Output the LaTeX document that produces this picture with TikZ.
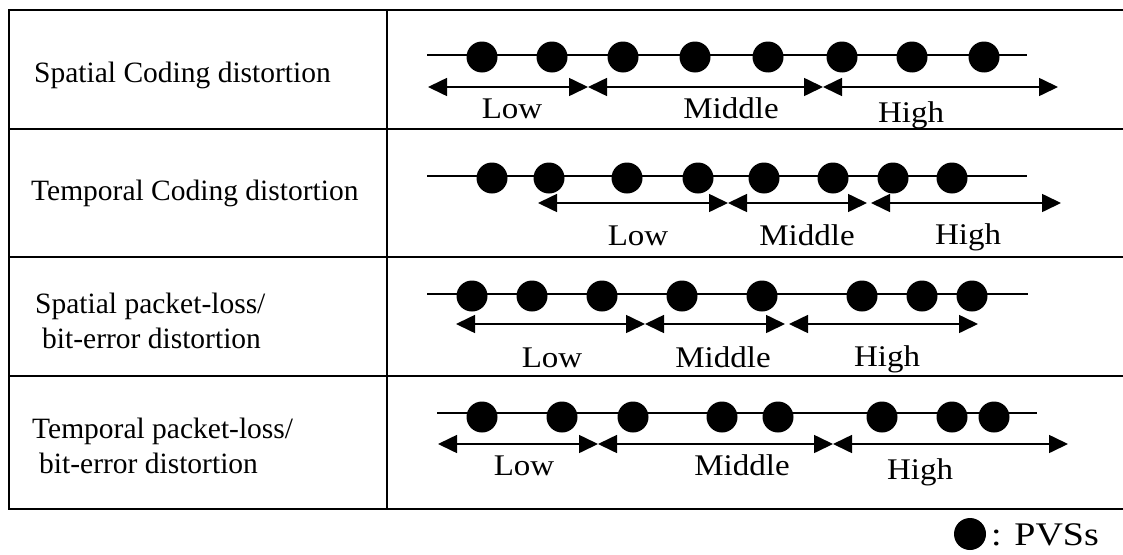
\documentclass[tikz,border=0pt]{standalone}
\usepackage{graphicx}
\usepackage{fontspec}
\setmainfont{Liberation Serif}
\usetikzlibrary{arrows.meta}

\newcommand{\widetext}[2]{\scalebox{#1}[1]{#2}}

\tikzset{
  tableline/.style={line width=2pt},
  pvsline/.style={line width=1.6pt},
  pvs/.style={circle, fill=black, inner sep=0pt, minimum size=31pt},
  bandarrow/.style={line width=1.6pt,
    {Triangle[length=19pt,width=18pt]}-{Triangle[length=19pt,width=18pt]}},
  lbl/.style={font=\fontsize{30}{34}\selectfont, inner sep=0pt, anchor=base},
  rowname/.style={font=\fontsize{29.5}{34}\selectfont, inner sep=0pt, anchor=base west},
}

\begin{document}
\begin{tikzpicture}[x=1pt,y=-1pt]
    \useasboundingbox (0,0) rectangle (1123,554);

    % Table frame
    \draw[tableline] (1123,10) -- (8.6,10) -- (8.6,509) -- (1123,509);
    \draw[tableline] (387,10) -- (387,509);
    \foreach \y in {129,257,376}
        \draw[tableline] (8.6,\y) -- (1123,\y);

    % Row names
    \node[rowname] (name1) at (34,82) {Spatial Coding distortion};
    \node[rowname] (name2) at (31,200) {Temporal Coding distortion};
    \node[rowname] (name3a) at (35,313) {Spatial packet-loss/};
    \node[rowname] (name3b) at (42,348) {bit-error distortion};
    \node[rowname] (name4a) at (32,438) {Temporal packet-loss/};
    \node[rowname] (name4b) at (39,473) {bit-error distortion};

    % Row 1
    \coordinate (s1) at (427,55);
    \coordinate (e1) at (1027,55);
    \draw[pvsline] (s1) -- (e1);
    \foreach \x [count=\i] in {482,552,623,695,768,842,912,984}
        \node[pvs] (p1\i) at (\x,57) {};
    \coordinate (a1) at (428,87);
    \coordinate (b1) at (588,87);
    \coordinate (c1) at (823,87);
    \coordinate (d1) at (1058,87);
    \draw[bandarrow] (a1) -- (b1);
    \draw[bandarrow] (b1) -- (c1);
    \draw[bandarrow] (c1) -- (d1);
    \node[lbl] (low1) at (512,118) {\widetext{1.1}{Low}};
    \node[lbl] (mid1) at (731,118) {\widetext{1.1}{Middle}};
    \node[lbl] (high1) at (911,122) {\widetext{1.1}{High}};

    % Row 2
    \coordinate (s2) at (427,176);
    \coordinate (e2) at (1027,176);
    \draw[pvsline] (s2) -- (e2);
    \foreach \x [count=\i] in {492,549,627,698,764,833,893,952}
        \node[pvs] (p2\i) at (\x,178) {};
    \coordinate (a2) at (538,203);
    \coordinate (b2) at (728,203);
    \coordinate (c2) at (867,203);
    \coordinate (c2h) at (871,203);
    \coordinate (d2) at (1061,203);
    \draw[bandarrow] (a2) -- (b2);
    \draw[bandarrow] (b2) -- (c2);
    \draw[bandarrow] (c2h) -- (d2);
    \node[lbl] (low2) at (638,245) {\widetext{1.1}{Low}};
    \node[lbl] (mid2) at (807,245) {\widetext{1.1}{Middle}};
    \node[lbl] (high2) at (968,244) {\widetext{1.1}{High}};

    % Row 3
    \coordinate (s3) at (427,294);
    \coordinate (e3) at (1028,294);
    \draw[pvsline] (s3) -- (e3);
    \foreach \x [count=\i] in {472,532,602,682,762,862,922,972}
        \node[pvs] (p3\i) at (\x,296) {};
    \coordinate (a3) at (456,324);
    \coordinate (b3) at (645,324);
    \coordinate (c3) at (785,324);
    \coordinate (c3h) at (789,324);
    \coordinate (d3) at (978,324);
    \draw[bandarrow] (a3) -- (b3);
    \draw[bandarrow] (b3) -- (c3);
    \draw[bandarrow] (c3h) -- (d3);
    \node[lbl] (low3) at (552,367) {\widetext{1.1}{Low}};
    \node[lbl] (mid3) at (723,367) {\widetext{1.1}{Middle}};
    \node[lbl] (high3) at (887,366) {\widetext{1.1}{High}};

    % Row 4
    \coordinate (s4) at (437,413);
    \coordinate (e4) at (1037,413);
    \draw[pvsline] (s4) -- (e4);
    \foreach \x [count=\i] in {482,562,633,722,778,882,952,994}
        \node[pvs] (p4\i) at (\x,417) {};
    \coordinate (a4) at (438,444);
    \coordinate (b4) at (598,444);
    \coordinate (c4) at (833,444);
    \coordinate (d4) at (1068,444);
    \draw[bandarrow] (a4) -- (b4);
    \draw[bandarrow] (b4) -- (c4);
    \draw[bandarrow] (c4) -- (d4);
    \node[lbl] (low4) at (524,475) {\widetext{1.1}{Low}};
    \node[lbl] (mid4) at (742,475) {\widetext{1.1}{Middle}};
    \node[lbl] (high4) at (920,479) {\widetext{1.1}{High}};

    % Legend
    \node[pvs, minimum size=32pt] (legdot) at (970,534) {};
    \node[rowname, font=\fontsize{33}{38}\selectfont] (legtext) at (991,545) {\widetext{1.15}{: PVSs}};
\end{tikzpicture}
\end{document}
